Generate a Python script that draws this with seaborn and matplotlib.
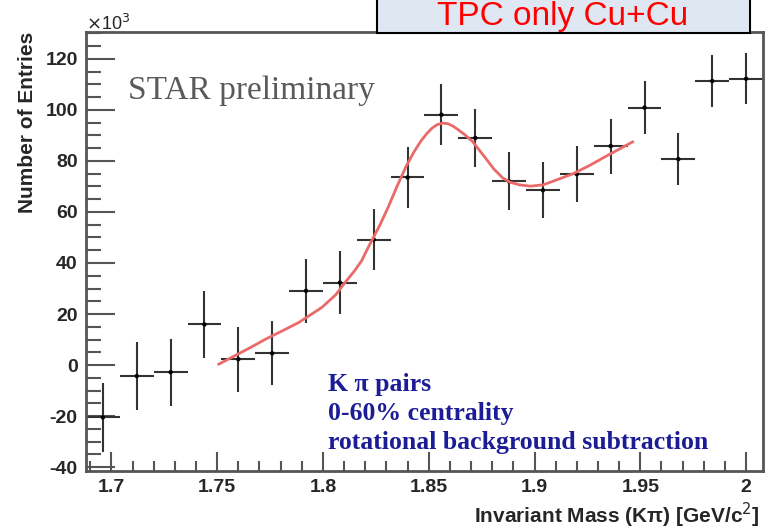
import numpy as np
import pandas as pd
import matplotlib
matplotlib.use("Agg")
import matplotlib.pyplot as plt
import seaborn as sns
from matplotlib.patches import Rectangle
from matplotlib.ticker import MultipleLocator

# histogram bins (K pi invariant mass)
mass = [1.696, 1.712, 1.728, 1.744, 1.760, 1.776, 1.792, 1.808, 1.824, 1.840,
        1.856, 1.872, 1.888, 1.904, 1.920, 1.936, 1.952, 1.968, 1.984, 2.000]
entries = [-20.5, -4.3, -2.8, 15.9, 2.3, 4.6, 29.1, 32.3, 49.2, 73.5,
           98.1, 89.0, 72.0, 68.5, 74.8, 85.8, 100.9, 80.7, 111.3, 112.2]
errors = [13.5, 13.4, 13.2, 13.0, 12.7, 12.5, 12.5, 12.3, 12.0, 12.0,
          12.0, 11.3, 11.4, 11.0, 11.0, 10.8, 10.5, 10.3, 10.2, 10.0]
bin_half = 0.008

# fit curve (gaussian peak + background)
fit_x = [1.7506, 1.7589, 1.7660, 1.7730, 1.7810, 1.7886, 1.7995, 1.8060, 1.8105,
         1.8150, 1.8183, 1.8214, 1.8270, 1.8308, 1.8350, 1.8391, 1.8430, 1.8464,
         1.8490, 1.8515, 1.8540, 1.8566, 1.8590, 1.8615, 1.8636, 1.8670, 1.8707,
         1.8760, 1.8808, 1.8850, 1.8886, 1.8930, 1.8980, 1.9040, 1.9090, 1.9183,
         1.9260, 1.9340, 1.9465]
fit_y = [0.3, 3.9, 7.0, 10.2, 13.5, 16.7, 22.6, 27.5, 32.4,
         37.0, 40.9, 46.1, 55.0, 61.8, 70.0, 77.5, 83.5, 87.9,
         90.6, 92.8, 94.2, 94.8, 94.6, 93.6, 92.4, 90.3, 87.6,
         82.0, 76.8, 73.3, 71.6, 70.6, 70.1, 70.6, 72.1, 75.0,
         78.2, 81.9, 87.5]

df = pd.DataFrame({"mass": mass, "entries": entries, "err": errors})
fit = pd.DataFrame({"mass": fit_x, "entries": fit_y})

sns.set_style("ticks")
plt.rcParams["font.family"] = ["Liberation Sans", "DejaVu Sans"]
plt.rcParams["axes.unicode_minus"] = False

fig = plt.figure(figsize=(7.77, 5.29), dpi=100)
ax = fig.add_axes([86 / 777, 1 - 471 / 529, (763 - 86) / 777, (471 - 32) / 529])

frame_col = "#555555"

ax.errorbar(df["mass"], df["entries"], yerr=df["err"], xerr=bin_half,
            fmt="none", ecolor="#333333", elinewidth=1.5, capsize=0, zorder=2)
sns.scatterplot(data=df, x="mass", y="entries", ax=ax, color="black",
                s=10, edgecolor="none", zorder=3)
sns.lineplot(data=fit, x="mass", y="entries", ax=ax, color="#ea6a6a",
             linewidth=2, sort=False, zorder=4)

ax.set_xlim(1.688, 2.008)
ax.set_ylim(-41.5, 130.5)
ax.xaxis.set_major_locator(MultipleLocator(0.05))
ax.xaxis.set_minor_locator(MultipleLocator(0.01))
ax.yaxis.set_major_locator(MultipleLocator(20))
ax.yaxis.set_minor_locator(MultipleLocator(5))
ax.xaxis.set_major_formatter(lambda v, p: f"{v:g}")

ax.tick_params(axis="both", which="major", direction="in", color=frame_col,
               width=1.5, labelsize=14, pad=6)
ax.tick_params(axis="y", which="major", length=21)
ax.tick_params(axis="y", which="minor", direction="in", length=11,
               width=1.5, color=frame_col)
ax.tick_params(axis="x", which="major", length=14)
ax.tick_params(axis="x", which="minor", direction="in", length=7,
               width=1.5, color=frame_col)
for lab in ax.get_xticklabels() + ax.get_yticklabels():
    lab.set_fontweight("bold")

for sp in ax.spines.values():
    sp.set_visible(True)
    sp.set_color(frame_col)
    sp.set_linewidth(2)

ax.set_xlabel("")
ax.set_ylabel("")
fig.text(28 / 777, 1 - 122 / 529, "Number of Entries", rotation=90,
         ha="center", va="center", fontsize=15, fontweight="bold")
fig.text(760 / 777, 1 - 515 / 529, "Invariant Mass (K\u03c0) [GeV/c$^{2}$]",
         ha="right", va="center", fontsize=15, fontweight="bold")
fig.text(86 / 777, 1 - 24 / 529, r"$\times$10$^{3}$", ha="left", va="center",
         fontsize=13)

fig.text(128 / 777, 1 - 91 / 529, "STAR preliminary", fontsize=24,
         color="#5a5a5a", va="center",
         family=["Liberation Serif", "DejaVu Serif"])

blue = "#1c1c96"
notes = ["K \u03c0 pairs", "0-60% centrality", "rotational background subtraction"]
for i, line in enumerate(notes):
    fig.text(328 / 777, 1 - (385 + 28.5 * i) / 529, line, fontsize=18.5,
             fontweight="bold", color=blue, va="center",
             family=["Liberation Serif", "DejaVu Serif"])

# label box at the top edge
fig.patches.append(Rectangle((377 / 777, 1 - 33 / 529), (750 - 377) / 777, 0.2,
                             transform=fig.transFigure, facecolor="#dfe7f2",
                             edgecolor="black", linewidth=1.5, zorder=5))
fig.text(563 / 777, 1 - 25 / 529, "TPC only Cu+Cu", ha="center",
         va="baseline", fontsize=24, color="red", zorder=6)

fig.savefig("out.png", dpi=100)
